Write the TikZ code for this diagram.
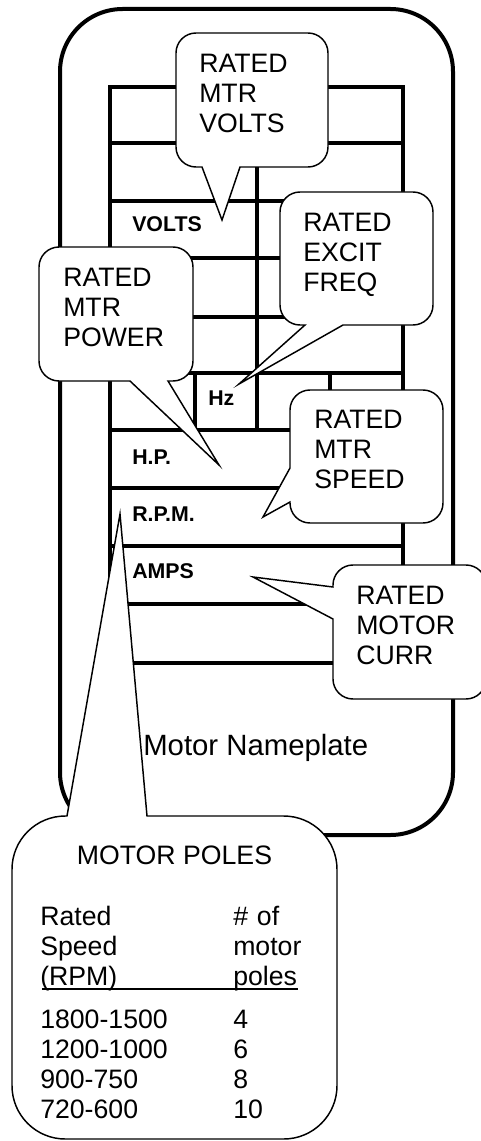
\documentclass[tikz,border=0pt]{standalone}
\usepackage{fontspec}
\setmainfont{Liberation Sans}

\begin{document}
\begin{tikzpicture}[x=0.75pt, y=-0.75pt,
    plate/.style={line width=3pt, rounded corners=47pt},
    gridline/.style={line width=2.6pt, line cap=rect},
    bubble/.style={draw, fill=white, line width=1.1pt},
    tag/.style={anchor=base west, inner sep=0pt,
                font=\fontsize{16}{18}\selectfont\bfseries},
    note/.style={anchor=base west, inner sep=0pt, text width=110pt,
                 align=left, font=\fontsize{20}{22.5}\selectfont}]
  \useasboundingbox (0,0) rectangle (481,1141);
  \clip (0,0) rectangle (481,1141);

  % Nameplate outline and grid
  \draw[plate] (60,9) rectangle (453,835);
  \foreach \y in {87,143,201,258,317,373,430,488,546,604,663}
    \draw[gridline] (110,\y) -- (403,\y);
  \foreach \x/\ya/\yb in {110/87/663, 403/87/663, 257/87/430,
                          195/373/430, 330/373/430}
    \draw[gridline] (\x,\ya) -- (\x,\yb);

  % Nameplate fields
  \node[tag] (volts) at (132,232) {VOLTS};
  \node[tag] (hz)    at (208,405) {Hz};
  \node[tag] (hp)    at (132,464) {H.P.};
  \node[tag] (rpm)   at (132,521) {R.P.M.};
  \node[tag] (amps)  at (132,578) {AMPS};
  \node[anchor=base west, inner sep=0pt, font=\fontsize{22}{24}\selectfont]
    (title) at (143,755) {Motor Nameplate};

  % Callout: motor volts
  \filldraw[bubble] (202,167) [rounded corners=15pt] -- (176,167) -- (176,33)
    -- (328,33) -- (328,167) [sharp corners] -- (240,167) -- (222,220) -- cycle;
  \node[note] (mtrvolts) at (199,73) {RATED\\MTR\\VOLTS};

  % Callout: excitation frequency
  \filldraw[bubble] (305,325) [rounded corners=15pt] -- (280,325) -- (280,192)
    -- (433,192) -- (433,325) [sharp corners] -- (343,325) -- (239,384) -- cycle;
  \node[note] (excitfreq) at (303,232) {RATED\\EXCIT\\FREQ};

  % Callout: motor power
  \filldraw[bubble] (130,381) [rounded corners=15pt] -- (39,381) -- (39,247)
    -- (193,247) -- (193,381) [sharp corners] -- (168,381) -- (219,465) -- cycle;
  \node[note] (mtrpower) at (63,286) {RATED\\MTR\\POWER};

  % Callout: motor speed
  \filldraw[bubble] (290,502) [rounded corners=15pt] -- (290,523) -- (443,523)
    -- (443,390) -- (290,390) [sharp corners] -- (290,468) -- (263,517) -- cycle;
  \node[note] (mtrspeed) at (314,428) {RATED\\MTR\\SPEED};

  % Callout: motor current
  \filldraw[bubble] (333,619) [rounded corners=15pt] -- (333,699) -- (486,699)
    -- (486,565) -- (333,565) [sharp corners] -- (333,587) -- (253,577) -- cycle;
  \node[note] (motorcurr) at (356,604) {RATED\\MOTOR\\CURR};

  % Callout: motor poles table
  \filldraw[bubble] (147,816) [rounded corners=40pt] -- (337,816) -- (337,1139)
    -- (12,1139) -- (12,816) [sharp corners] -- (67,816) -- (120,514) -- cycle;
  \node[anchor=base, inner sep=0pt, font=\fontsize{20}{22.5}\selectfont]
    (poles) at (174.5,864) {MOTOR POLES};
  \node[note] (speedhead) at (40,925) {Rated\\Speed\\(RPM)};
  \node[note] (polehead) at (233,925) {\# of\\motor\\poles};
  \draw[line width=1pt] (42,989) -- (298,989);
  \foreach \s/\p [count=\k] in {1800-1500/4, 1200-1000/6, 900-750/8, 720-600/10} {
    \node[note] (spd\k) at (40,998+30*\k) {\s};
    \node[note] (pol\k) at (233,998+30*\k) {\p};
  }
\end{tikzpicture}
\end{document}
